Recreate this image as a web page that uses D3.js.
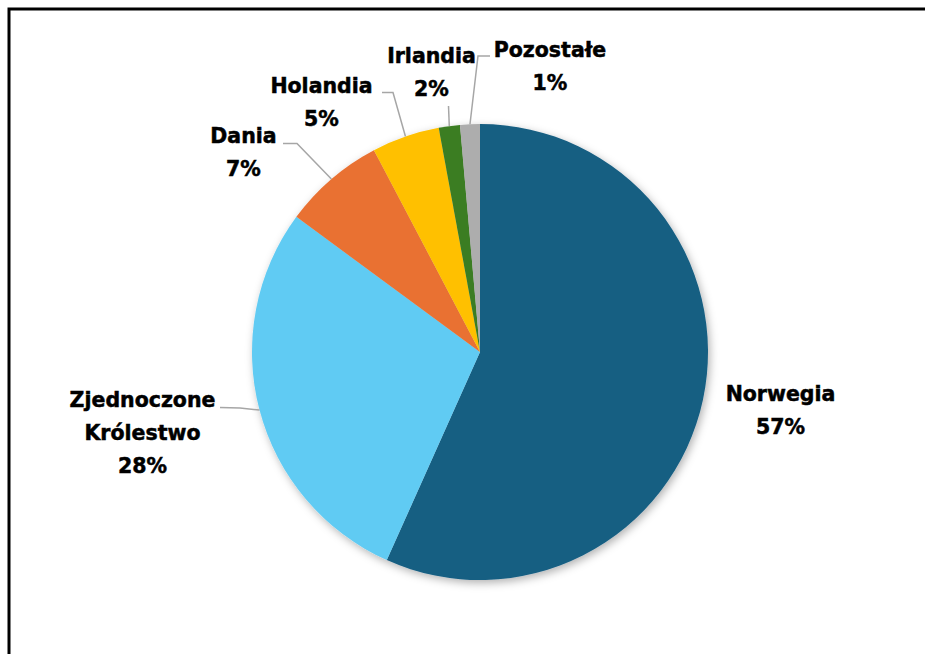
<!DOCTYPE html>
<html><head><meta charset="utf-8">
<script src="https://cdn.jsdelivr.net/npm/d3@7"></script>
<style>html,body{margin:0;padding:0;background:#fff;}svg{display:block;}</style>
</head><body>
<svg id="chart" width="925" height="654"></svg>
<script>
const categories = ["Norwegia", "Zjednoczone Królestwo", "Dania", "Holandia", "Irlandia", "Pozostałe"];
const values = [56.7, 28.4, 7.2, 4.8, 1.5, 1.4];
const colors = ["#175E82", "#61CBF3", "#E97132", "#FFC000", "#3A7D22", "#ADADAD"];
const labelLines = [["Norwegia"], ["Zjednoczone", "Królestwo"], ["Dania"], ["Holandia"], ["Irlandia"], ["Pozostałe"]];

// label layout (positions only)
const labelLayout = [
  {x: 780.5, y: 401, leader: null},
  {x: 142.5, y: 407, leader: [[220, 407.5], [240, 408]]},
  {x: 243.5, y: 143, leader: [[283, 143.5], [297, 143.5]]},
  {x: 321.5, y: 93, leader: [[382, 92.5], [393, 92.5]]},
  {x: 431.5, y: 63, leader: [[448.5, 106]]},
  {x: 550, y: 57, leader: [[490, 56], [478, 56]]}
];

const W = 925, H = 654, cx = 480, cy = 352, R = 228;
const svg = d3.select("#chart");

const defs = svg.append("defs");
const f = defs.append("filter").attr("id", "shadow").attr("x", "-20%").attr("y", "-20%").attr("width", "140%").attr("height", "140%");
f.append("feDropShadow").attr("dx", 2).attr("dy", 3).attr("stdDeviation", 4).attr("flood-color", "#000").attr("flood-opacity", 0.3);

// frame
svg.append("path").attr("d", `M9,${H} V9 H${W}`).attr("fill", "none").attr("stroke", "#000").attr("stroke-width", 3);

const pie = d3.pie().sort(null).value(d => d)(values);
const arc = d3.arc().innerRadius(0).outerRadius(R);

const g = svg.append("g").attr("transform", `translate(${cx},${cy})`);
const pg = g.append("g").attr("filter", "url(#shadow)");
pg.selectAll("path").data(pie).join("path")
  .attr("d", arc)
  .attr("fill", (d, i) => colors[i]);

// leaders
const edgePoint = (d) => {
  const a = (d.startAngle + d.endAngle) / 2;
  return [cx + R * Math.sin(a), cy - R * Math.cos(a)];
};
pie.forEach((d, i) => {
  const L = labelLayout[i];
  if (!L.leader) return;
  const pts = L.leader.concat([edgePoint(d)]);
  svg.append("path")
    .attr("d", d3.line()(pts))
    .attr("fill", "none").attr("stroke", "#A6A6A6").attr("stroke-width", 1.5);
});

// labels
const lh = 33;
pie.forEach((d, i) => {
  const L = labelLayout[i];
  const lines = labelLines[i].concat([Math.round(values[i]) + "%"]);
  const t = svg.append("text")
    .attr("text-anchor", "middle")
    .attr("font-family", "DejaVu Sans")
    .attr("font-weight", "bold")
    .attr("font-size", 20.5)
    .attr("fill", "#000")
    .attr("stroke", "#000")
    .attr("stroke-width", 0.5);
  lines.forEach((s, k) => {
    t.append("tspan").attr("x", L.x).attr("y", L.y + k * lh).text(s);
  });
});
</script>
</body></html>
